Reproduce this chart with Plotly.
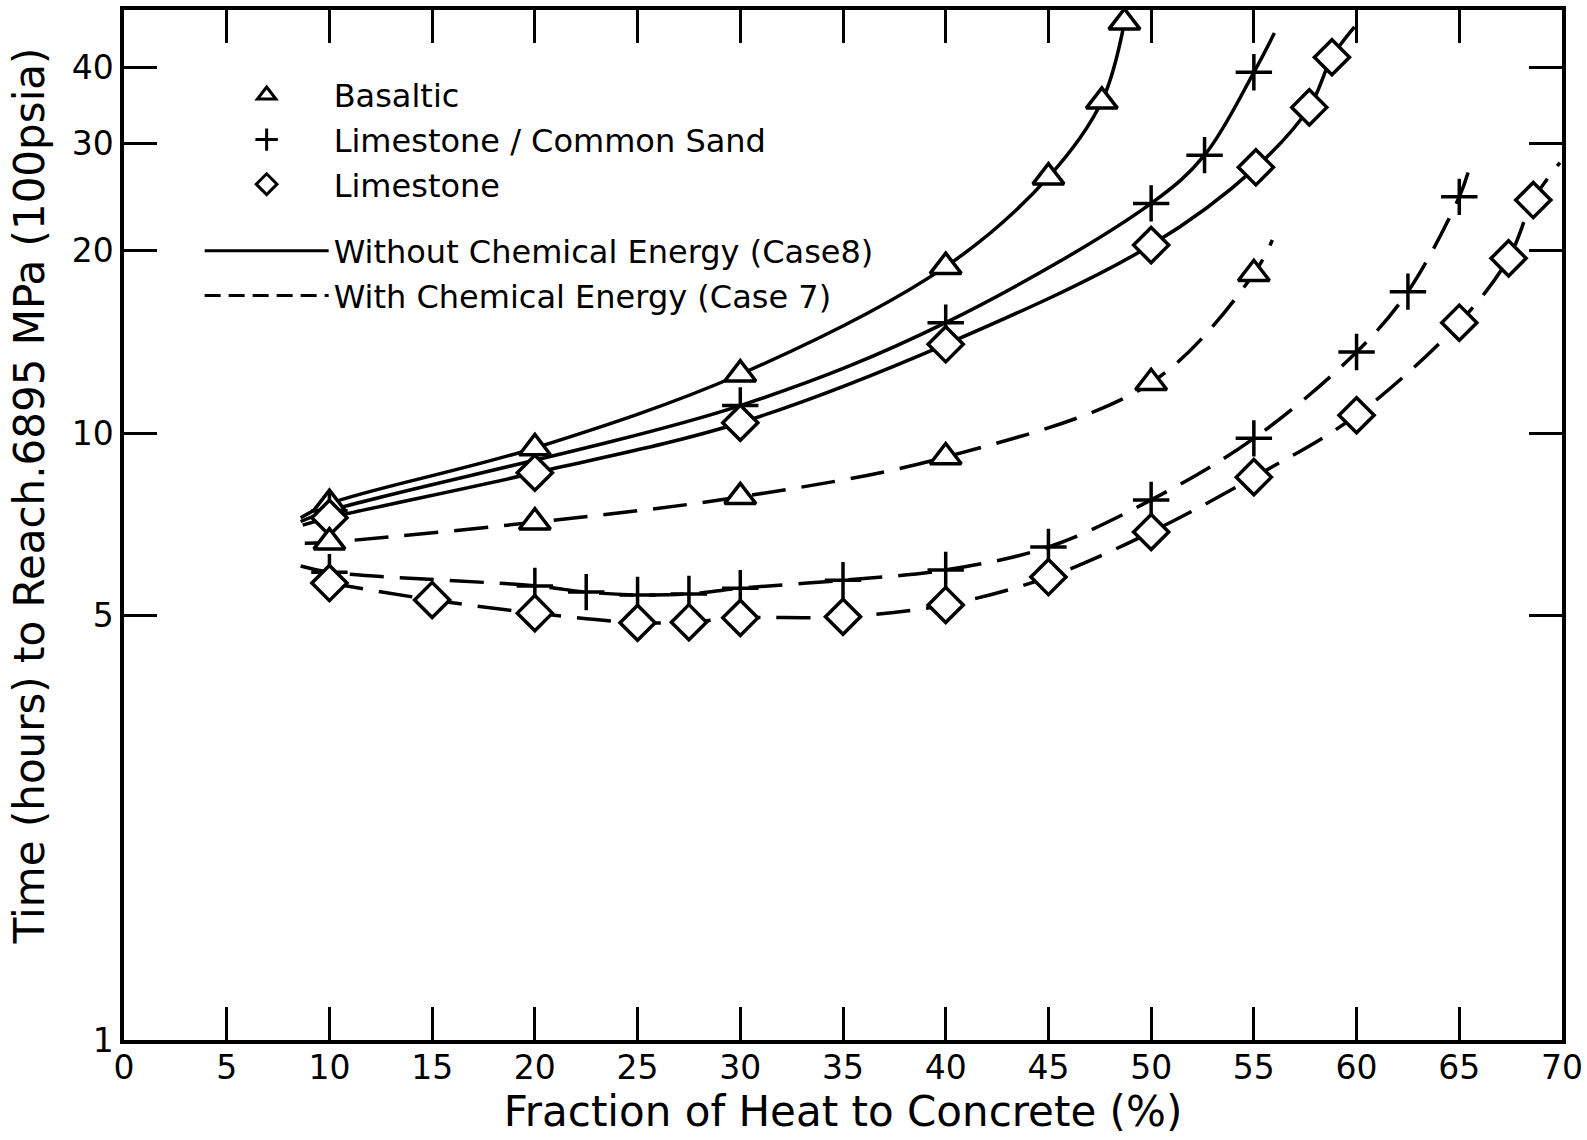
import plotly.graph_objects as go

# ---------------- data ----------------
x_ticks = [0, 5, 10, 15, 20, 25, 30, 35, 40, 45, 50, 55, 60, 65, 70]
y_ticks = [1, 5, 10, 20, 30, 40]

# Case 8 : without chemical energy (solid curves)
bas8_x = [10, 20, 30, 40, 45, 47.6, 48.7]
bas8_y = [7.65, 9.45, 12.5, 18.8, 26.4, 35.2, 47.5]
bas8_start = (8.6, 7.25)
bas8_end = None

lcs8_x = [10, 30, 40, 50, 52.6, 55.0]
lcs8_y = [7.45, 11.1, 15.2, 23.9, 28.7, 39.3]
lcs8_start = (8.6, 7.15)
lcs8_end = (56.0, 45.6)

lim8_x = [10, 20, 30, 40, 50, 55.1, 57.7, 58.8]
lim8_y = [7.25, 8.6, 10.4, 14.0, 20.4, 27.4, 34.4, 41.6]
lim8_start = (8.7, 7.05)
lim8_end = (59.9, 46.7)

# Case 7 : with chemical energy (dashed curves)
bas7_x = [10, 20, 30, 40, 50, 55]
bas7_y = [6.61, 7.13, 7.85, 9.13, 12.1, 18.3]
bas7_start = (8.8, 6.58)
bas7_end = (55.9, 20.8)

lcs7_x = [10, 20, 22.5, 25, 27.5, 30, 35, 40, 45, 50, 55, 60, 62.5, 65]
lcs7_y = [5.9, 5.6, 5.47, 5.41, 5.43, 5.55, 5.72, 5.95, 6.49, 7.76, 9.8, 13.6, 17.1, 24.5]
lcs7_start = (8.6, 6.04)
lcs7_end = (65.5, 27.4)

lim7_x = [10, 15, 20, 25, 27.5, 30, 35, 40, 45, 50, 55, 60, 65, 67.4, 68.6]
lim7_y = [5.66, 5.31, 5.05, 4.87, 4.88, 4.96, 4.98, 5.21, 5.79, 6.87, 8.46, 10.7, 15.2, 19.4, 24.2]
lim7_start = None
lim7_end = (69.9, 27.9)

legend_names = ["Basaltic", "Limestone / Common Sand", "Limestone",
                "Without Chemical Energy (Case8)", "With Chemical Energy (Case 7)"]
y_title = "Time (hours) to Reach.6895 MPa (100psia)"
x_title = "Fraction of Heat to Concrete (%)"

# ---------------- styling ----------------
FONT = "DejaVu Sans"
LW = 3.5
DASH = "34px,16px"
SYMBOLS = {"bas": "triangle-up", "lcs": "cross-thin", "lim": "diamond"}
MSIZE = {"bas": 27, "lcs": 26, "lim": 27}


def curve(xs, ys, start, end):
    cx, cy = list(xs), list(ys)
    if start is not None:
        cx.insert(0, start[0]); cy.insert(0, start[1])
    if end is not None:
        cx.append(end[0]); cy.append(end[1])
    return cx, cy


series = [
    ("bas", bas8_x, bas8_y, bas8_start, bas8_end, "solid"),
    ("lcs", lcs8_x, lcs8_y, lcs8_start, lcs8_end, "solid"),
    ("lim", lim8_x, lim8_y, lim8_start, lim8_end, "solid"),
    ("bas", bas7_x, bas7_y, bas7_start, bas7_end, DASH),
    ("lcs", lcs7_x, lcs7_y, lcs7_start, lcs7_end, DASH),
    ("lim", lim7_x, lim7_y, lim7_start, lim7_end, DASH),
]

fig = go.Figure()

# curves first
for key, xs, ys, st, en, dash in series:
    cx, cy = curve(xs, ys, st, en)
    fig.add_trace(go.Scatter(x=cx, y=cy, mode="lines", showlegend=False,
                             line=dict(color="black", width=LW, dash=dash,
                                       shape="spline", smoothing=1.0),
                             hoverinfo="skip"))

# markers on top
for key, xs, ys, st, en, dash in series:
    if key == "lcs":
        marker = dict(symbol="cross-thin", size=MSIZE[key], color="black",
                      line=dict(color="black", width=LW))
    else:
        marker = dict(symbol=SYMBOLS[key], size=MSIZE[key], color="white",
                      line=dict(color="black", width=LW))
    fig.add_trace(go.Scatter(x=xs, y=ys, mode="markers", showlegend=False,
                             marker=marker))

# legend entries
for i, key in enumerate(["bas", "lcs", "lim"]):
    if key == "lcs":
        marker = dict(symbol="cross-thin", size=22, color="black",
                      line=dict(color="black", width=3))
    else:
        marker = dict(symbol=SYMBOLS[key], size=22, color="white",
                      line=dict(color="black", width=3))
    fig.add_trace(go.Scatter(x=[None], y=[None], mode="markers", name=legend_names[i],
                             marker=marker, legendgroup="m"))
fig.add_trace(go.Scatter(x=[None], y=[None], mode="lines", name=legend_names[3],
                         line=dict(color="black", width=3), legendgroup="l"))
fig.add_trace(go.Scatter(x=[None], y=[None], mode="lines", name=legend_names[4],
                         line=dict(color="black", width=3, dash="16px,8px"), legendgroup="l"))

axis_common = dict(showline=True, linecolor="black", linewidth=3.5, mirror="allticks",
                   ticks="inside", ticklen=33, tickwidth=3, tickcolor="black",
                   showgrid=False, zeroline=False,
                   tickfont=dict(family=FONT, size=33, color="black"))

fig.update_xaxes(range=[0, 70], tickvals=x_ticks, ticktext=[str(v) for v in x_ticks],
                 ticklabelstandoff=-4,
                 title=dict(text=x_title, font=dict(family=FONT, size=42, color="black"),
                            standoff=4),
                 **axis_common)
fig.update_yaxes(type="log", range=[0, 1.697], tickvals=y_ticks,
                 ticktext=[str(v) for v in y_ticks], **axis_common)

fig.add_annotation(text=y_title, xref="paper", yref="paper", x=-0.066, y=0.528,
                   textangle=-90, showarrow=False,
                   font=dict(family=FONT, size=42, color="black"),
                   xanchor="center", yanchor="middle")

fig.update_layout(
    width=1587, height=1140,
    margin=dict(l=124, r=25, t=10, b=100, autoexpand=False),
    paper_bgcolor="white", plot_bgcolor="white",
    legend=dict(x=0.0526, y=0.944, xanchor="left", yanchor="top",
                font=dict(family=FONT, size=32, color="black"),
                bgcolor="rgba(0,0,0,0)", tracegroupgap=22, itemwidth=124,
                traceorder="grouped"),
    font=dict(family=FONT, color="black"),
)

fig.write_html("out.html", config={"displayModeBar": False},
               post_script="document.body.style.margin='0px';")
